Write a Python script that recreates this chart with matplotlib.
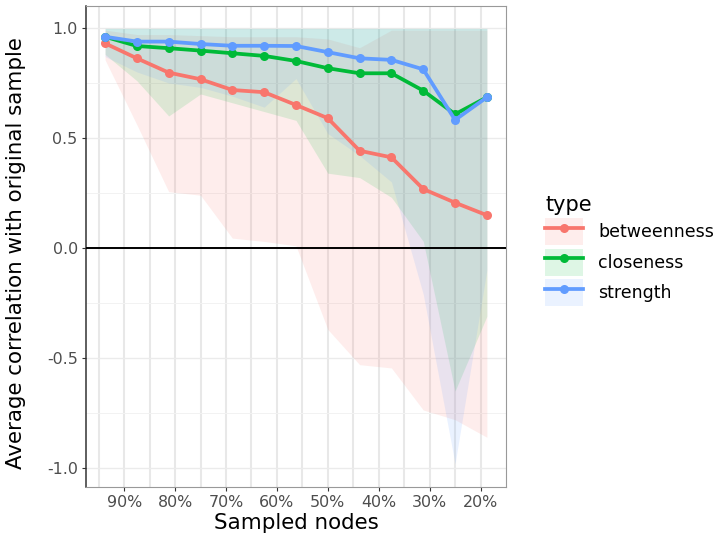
import matplotlib
matplotlib.use("Agg")
import matplotlib.pyplot as plt
from matplotlib.lines import Line2D
from matplotlib.patches import Patch

# proportion of nodes kept (%)
sampled = [93.75, 87.5, 81.25, 75, 68.75, 62.5, 56.25, 50, 43.75, 37.5, 31.25, 25, 18.75]

# betweenness
bet_mean = [0.930, 0.862, 0.797, 0.767, 0.718, 0.708, 0.650, 0.590, 0.442, 0.412, 0.268, 0.206, 0.149]
bet_lo = [0.855, 0.56, 0.256, 0.24, 0.045, 0.03, 0.01, -0.37, -0.53, -0.545, -0.736, -0.78, -0.86]
bet_hi = [0.99, 0.97, 0.97, 0.965, 0.96, 0.96, 0.96, 0.95, 0.91, 0.99, 0.99, 0.99, 0.99]

# closeness
clo_mean = [0.960, 0.918, 0.908, 0.897, 0.885, 0.873, 0.850, 0.817, 0.794, 0.794, 0.715, 0.608, 0.685]
clo_lo = [0.88, 0.76, 0.60, 0.70, 0.66, 0.62, 0.58, 0.34, 0.32, 0.23, 0.03, -0.65, -0.31]
clo_hi = [0.998, 0.998, 0.998, 0.998, 0.998, 0.998, 0.998, 0.998, 0.998, 0.998, 0.998, 0.998, 0.998]

# strength
str_mean = [0.960, 0.938, 0.938, 0.927, 0.919, 0.919, 0.918, 0.890, 0.862, 0.855, 0.812, 0.582, 0.685]
str_lo = [0.87, 0.80, 0.75, 0.73, 0.69, 0.64, 0.77, 0.52, 0.42, 0.30, -0.21, -0.98, -0.10]
str_hi = [0.998, 0.998, 0.998, 0.998, 0.998, 0.998, 0.998, 0.998, 0.998, 0.998, 0.998, 0.998, 0.998]

types = ["betweenness", "closeness", "strength"]
colors = ["#F8766D", "#00BA38", "#619CFF"]
means = [bet_mean, clo_mean, str_mean]
lows = [bet_lo, clo_lo, str_lo]
highs = [bet_hi, clo_hi, str_hi]

x_ticks = [90, 80, 70, 60, 50, 40, 30, 20]
x_minor = [95, 85, 75, 65, 55, 45, 35, 25]
y_ticks = [-1.0, -0.5, 0.0, 0.5, 1.0]
y_minor = [-0.75, -0.25, 0.25, 0.75]

fig = plt.figure(figsize=(7.22, 5.37), dpi=100)
ax = fig.add_axes([0.1191, 0.0931, 0.5817, 0.8948])

for lo, hi, c in zip(lows, highs, colors):
    ax.fill_between(sampled, lo, hi, color=c, alpha=0.13, linewidth=0, zorder=2)

ax.axhline(0, color="black", linewidth=1.4, zorder=3)

for m, c in zip(means, colors):
    ax.plot(sampled, m, color=c, linewidth=2.7, marker="o", markersize=6.5,
            markeredgewidth=0, zorder=4)

ax.set_xlim(97.5, 15)
ax.set_ylim(-1.086, 1.0975)

ax.set_xticks(x_ticks)
ax.set_xticklabels([f"{t}%" for t in x_ticks])
ax.set_xticks(x_minor, minor=True)
ax.set_yticks(y_ticks)
ax.set_yticklabels([f"{t:.1f}" for t in y_ticks])
ax.set_yticks(y_minor, minor=True)

ax.grid(axis="x", which="both", color="#E8E8E8", linewidth=1.5, zorder=0)
ax.grid(axis="y", which="major", color="#EBEBEB", linewidth=1.0, zorder=0)
ax.grid(axis="y", which="minor", color="#F2F2F2", linewidth=0.7, zorder=0)
ax.set_axisbelow(True)

ax.tick_params(which="major", length=3, width=0.8, color="#333333",
               labelsize=11.4, labelcolor="#4D4D4D", pad=3)
ax.tick_params(which="minor", length=0)

for side in ["top", "right", "bottom"]:
    ax.spines[side].set_color("#999999")
    ax.spines[side].set_linewidth(0.8)
ax.spines["left"].set_color("#333333")
ax.spines["left"].set_linewidth(1.1)

fig.text(296 / 722, 1 - 523 / 537, "Sampled nodes", ha="center", va="center",
         fontsize=15.4, color="black")
fig.text(16 / 722, 1 - 253 / 537, "Average correlation with original sample",
         ha="center", va="center", rotation=90, fontsize=15.4, color="black")

handles = []
for c in colors:
    bg = Patch(facecolor=c, alpha=0.13, edgecolor="none")
    ln = Line2D([], [], color=c, linewidth=2.7, marker="o", markersize=6.5,
                markeredgewidth=0)
    handles.append((bg, ln))

leg = fig.legend(handles, types, loc="upper left",
                 bbox_to_anchor=(545 / 722, 1 - 195 / 537),
                 frameon=False, fontsize=12.5, title="type", title_fontsize=15,
                 handlelength=2.2, handleheight=2.0, labelspacing=0.2,
                 handletextpad=0.86, borderpad=0, borderaxespad=0)
leg._legend_box.align = "left"

fig.savefig("out.png", dpi=100)
